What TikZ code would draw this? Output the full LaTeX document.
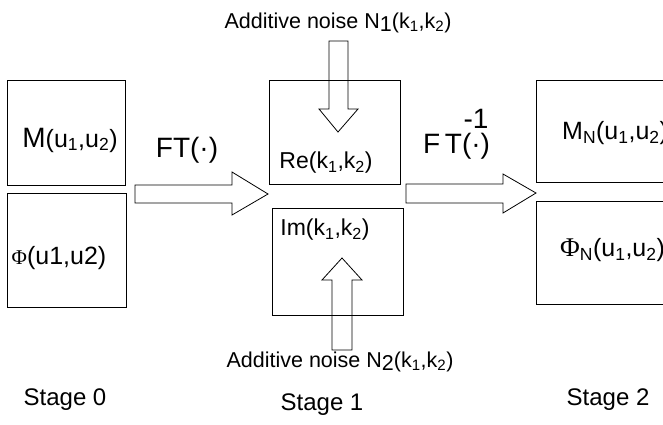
\documentclass[tikz,border=0pt]{standalone}
\usepackage{fontspec}
\setmainfont{Liberation Sans}
\newfontfamily\grk{Liberation Serif}
\newcommand{\fs}[1]{\fontsize{#1}{#1}\selectfont}
\newcommand{\lo}[1]{\raisebox{-0.3ex}{#1}}
\usepackage{tikz}

\begin{document}
\begin{tikzpicture}[x=1pt,y=-1pt,
  box/.style={draw,line width=0.8pt,inner sep=0pt},
  blk/.style={draw,line width=0.8pt,line join=miter},
  lbl/.style={inner sep=0pt,anchor=center},
  stage/.style={lbl,font=\fs{24}},
  noise/.style={inner sep=0pt,anchor=base,font=\fs{21.5}}]
  \useasboundingbox (0,0) rectangle (663,424);
  % stage 0
  \node[box,minimum width=118pt,minimum height=105pt] (mag0) at (66,132.5) {};
  \node[box,minimum width=119pt,minimum height=114pt] (phs0) at (66.5,250) {};
  \node[lbl] (mtxt0) at (70,140) {\fs{28}M\fs{25}(u\textsubscript{1},u\textsubscript{2})};
  \node[lbl] (ptxt0) at (59,258) {{\grk\fs{21}Φ}\fs{25}(u1,u2)};
  % stage 1
  \node[box,minimum width=131pt,minimum height=104pt] (re1) at (334.5,132) {};
  \node[box,minimum width=131pt,minimum height=107pt] (im1) at (337.5,261.5) {};
  \node[lbl] (retxt) at (326,163) {\fs{23}Re(k\textsubscript{1},k\textsubscript{2})};
  \node[lbl] (imtxt) at (325,230) {\fs{23}Im(k\textsubscript{1},k\textsubscript{2})};
  \node[noise] (n1) at (338,28) {Additive noise N\lo{1}(k\textsubscript{1},k\textsubscript{2})};
  \node[noise] (n2) at (340,367) {Additive noise N\lo{2}(k\textsubscript{1},k\textsubscript{2})};
  % stage 2
  \node[box,minimum width=140pt,minimum height=102pt] (mag2) at (606,131) {};
  \node[box,minimum width=140pt,minimum height=103pt] (phs2) at (606,252.5) {};
  \node[lbl,anchor=west] (mtxt2) at (562,133) {\fs{25}M\textsubscript{N}(u\textsubscript{1},u\textsubscript{2})};
  \node[lbl,anchor=west] (ptxt2) at (560,250) {{\grk\fs{27}Φ}\fs{25}\textsubscript{N}(u\textsubscript{1},u\textsubscript{2})};
  % transforms
  \node[lbl] (ft) at (187,150) {\fs{28}FT(·)};
  \node[lbl,anchor=base west] (ift) at (423,153)
    {\fs{28}F\,T\begin{tabular}[b]{@{}c@{}}-1\\[-4pt](·)\end{tabular}};
  % block arrows
  \draw[blk] (135,185) -- (232,185) -- (232,172) -- (268,194) -- (232,215)
    -- (232,203) -- (135,203) -- cycle;
  \draw[blk] (406,184) -- (503,184) -- (503,174) -- (536,193) -- (503,213)
    -- (503,203) -- (406,203) -- cycle;
  \draw[blk] (329,41) -- (329,109) -- (319,109) -- (338,132) -- (358,109)
    -- (348,109) -- (348,41) -- cycle;
  \draw[blk] (332,350) -- (332,280) -- (322,280) -- (342,258) -- (362,280)
    -- (352,280) -- (352,350) -- cycle;
  % stage labels
  \node[stage] (s0) at (65,400) {Stage 0};
  \node[stage] (s1) at (322,405) {Stage 1};
  \node[stage] (s2) at (608,400) {Stage 2};
\end{tikzpicture}
\end{document}
